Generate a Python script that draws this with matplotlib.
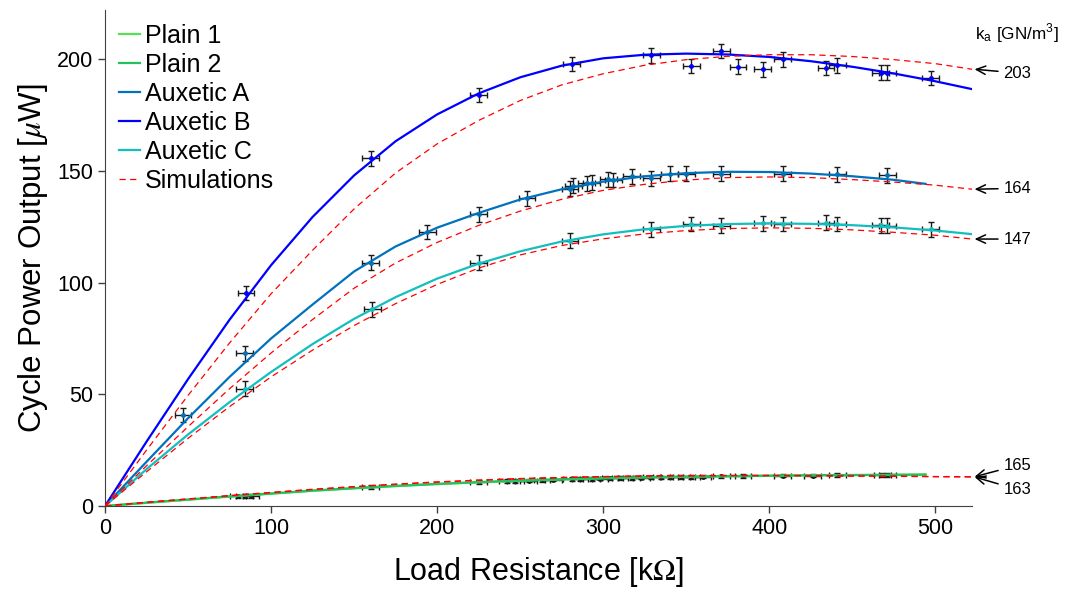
import matplotlib
matplotlib.use('Agg')
from matplotlib import pyplot
import numpy

# fitted curves (kOhm, uW)
r_full = [0, 25, 50, 75, 100, 125, 150, 175, 200, 225, 250, 275, 300, 325, 350, 375, 400, 425, 450, 475, 500, 522]
r_short = [0, 25, 50, 75, 100, 125, 150, 175, 200, 225, 250, 275, 300, 325, 350, 375, 400, 425, 450, 475, 494]

plain1_fit = [0, 1.4, 2.8, 4.2, 5.5, 6.8, 7.9, 8.9, 9.8, 10.6, 11.3, 11.9, 12.4, 12.8, 13.1, 13.3, 13.5, 13.7, 13.8, 13.9, 14.0]
plain2_fit = [0, 1.5, 2.9, 4.3, 5.6, 6.9, 8.0, 9.0, 9.9, 10.7, 11.4, 12.0, 12.5, 12.9, 13.2, 13.4, 13.6, 13.8, 13.9, 14.0, 14.1]
aux_a_fit = [0, 19.8, 39.3, 57.8, 75, 90.2, 105, 116.2, 124.6, 131.2, 137.2, 141.8, 145.2, 147.6, 149, 149.6, 149.5, 148.8, 147.6, 146, 144.2]
aux_b_fit = [0, 28.8, 56.8, 83.4, 107.8, 129.4, 148.0, 163.3, 175.3, 184.7, 191.9, 197.1, 200.4, 202.0, 202.5, 202.1, 201.0, 199.1, 196.6, 193.6, 190.1, 186.6]
aux_c_fit = [0, 16.5, 32, 46.5, 60, 72.5, 83.8, 93.5, 101.8, 108.5, 114, 118.4, 121.6, 123.9, 125.4, 126.2, 126.5, 126.3, 125.7, 124.7, 123.3, 121.7]

# simulations
sim_203 = [0, 25, 49.5, 73, 95, 114.5, 133, 149.1, 162.1, 172.6, 181.5, 188.5, 193.5, 197.3, 199.8, 201.3, 202, 202, 201.2, 199.8, 198, 195.5]
sim_164 = [0, 18, 35.5, 52.5, 68.5, 83.5, 97.5, 108.8, 118, 125.6, 132, 137.3, 141.3, 144, 145.9, 147, 147.3, 147, 146.1, 145, 143.6, 141.8]
sim_147 = [0, 15.3, 30.3, 44.5, 57.8, 69.8, 80.8, 90.6, 99.2, 106.5, 112.4, 116.6, 119.6, 121.8, 123.3, 124.2, 124.5, 124.3, 123.6, 122.5, 121.2, 119.5]
sim_165 = [0, 1.7, 3.2, 4.7, 6.1, 7.5, 8.7, 9.8, 10.8, 11.6, 12.3, 12.8, 13.2, 13.5, 13.6, 13.7, 13.7, 13.6, 13.5, 13.4, 13.2, 13.1]
sim_163 = [0, 1.6, 3.1, 4.6, 6.0, 7.4, 8.6, 9.7, 10.7, 11.5, 12.2, 12.7, 13.1, 13.4, 13.5, 13.6, 13.6, 13.5, 13.4, 13.3, 13.1, 13.0]

# measurements
plain1_r = [84, 160, 225, 247, 263, 281, 293, 304, 317, 329, 340, 353, 371, 408, 441, 471]
plain1_p = [4.5, 8.4, 10.8, 11.3, 11.7, 12.0, 12.2, 12.4, 12.6, 12.8, 12.9, 13.1, 13.3, 13.6, 13.8, 13.9]
plain2_r = [80, 88, 242, 255, 270, 286, 298, 310, 323, 335, 347, 360, 384, 426, 468]
plain2_p = [4.3, 4.5, 11.1, 11.4, 11.8, 12.1, 12.3, 12.5, 12.7, 12.8, 13.0, 13.2, 13.4, 13.6, 13.8]
aux_a_r = [47, 84, 160, 194, 225, 254, 280, 282, 290, 293, 303, 306, 317, 329, 340, 350, 371, 408, 441, 471]
aux_a_p = [40.7, 68.4, 108.9, 122.6, 130.5, 137.7, 142.1, 143.4, 144.4, 144.8, 146.2, 145.9, 147.6, 146.6, 148.8, 148.8, 148.8, 148.8, 148.5, 148.1]
aux_b_r = [85, 160, 225, 281, 329, 353, 371, 381, 396, 408, 434, 441, 467, 471, 497]
aux_b_p = [95.3, 155.7, 184, 197.8, 201.8, 196.9, 203.7, 196.6, 195.4, 200, 196.1, 197.3, 193.9, 193.9, 191.6]
aux_c_r = [84, 161, 225, 280, 329, 353, 371, 396, 408, 434, 441, 467, 471, 497]
aux_c_p = [52.6, 88.1, 108.9, 118.7, 123.9, 126.2, 125.4, 126.5, 126.2, 126.8, 126.2, 125.7, 125.4, 123.9]

r_err = 5.0
p_err_aux = 3.3
p_err_plain = 0.8

k_labels = ['203', '164', '147', '165', '163']

pyplot.rcParams.update({'font.family': 'Liberation Sans', 'mathtext.fontset': 'stix'})

fig = pyplot.figure(figsize=(10.67, 5.91), dpi=100)
ax = fig.add_axes([0.0984, 0.1438, 0.8126, 0.8392])

c_p1 = '#55e055'
c_p2 = '#22c25e'
c_a = '#0072bd'
c_b = '#0000ff'
c_c = '#14bebe'

def errs(r, p, col, perr):
    ax.errorbar(r, p, xerr=r_err, yerr=perr, fmt='o', ms=2.5, mfc=col, mec=col,
                ecolor='#1a1a1a', elinewidth=1.0, capsize=2.5, capthick=1.0, zorder=2)

errs(plain1_r, plain1_p, '#1a1a1a', p_err_plain)
errs(plain2_r, plain2_p, '#1a1a1a', p_err_plain)
errs(aux_a_r, aux_a_p, c_a, p_err_aux)
errs(aux_b_r, aux_b_p, c_b, p_err_aux)
errs(aux_c_r, aux_c_p, c_c, p_err_aux)

ax.plot(r_short, plain1_fit, color=c_p1, lw=1.6, label='Plain 1', zorder=3)
ax.plot(r_short, plain2_fit, color=c_p2, lw=1.6, label='Plain 2', zorder=3)
ax.plot(r_short, aux_a_fit, color=c_a, lw=1.6, label='Auxetic A', zorder=3)
ax.plot(r_full, aux_b_fit, color=c_b, lw=1.6, label='Auxetic B', zorder=3)
ax.plot(r_full, aux_c_fit, color=c_c, lw=1.6, label='Auxetic C', zorder=3)

sims = [sim_203, sim_164, sim_147, sim_165, sim_163]
for i, s in enumerate(sims):
    ax.plot(r_full, s, color='red', lw=0.9, dashes=(5, 3.5), zorder=4,
            label='Simulations' if i == 0 else None)

# k_a annotations
text_y = [193.8, 142.2, 119.5, 18.2, 7.4]
for lab, s, ty in zip(k_labels, sims, text_y):
    ax.annotate(lab, xy=(523.5, s[-1]), xytext=(541, ty), textcoords='data',
                fontsize=12, ha='left', va='center', annotation_clip=False,
                arrowprops=dict(arrowstyle='->,head_length=0.55,head_width=0.25',
                                color='black', lw=1.1, shrinkA=2, shrinkB=0))
ax.text(524, 211.5, r'k$_\mathregular{a}$ [GN/m$^\mathregular{3}$]', fontsize=12.3,
        ha='left', va='center', clip_on=False)

ax.set_xlim(0, 522)
ax.set_ylim(0, 222)
ax.set_xticks([0, 100, 200, 300, 400, 500])
ax.set_yticks([0, 50, 100, 150, 200])
ax.set_xlabel(r'Load Resistance [k$\Omega$]', fontsize=22, labelpad=12)
ax.set_ylabel(r'Cycle Power Output [$\mu$W]', fontsize=22.5, labelpad=5)

for side in ['top', 'right']:
    ax.spines[side].set_visible(False)
for side in ['left', 'bottom']:
    ax.spines[side].set_color('#404040')
ax.tick_params(direction='out', length=5, width=1, colors='#404040', labelsize=15.5, labelcolor='black')

ax.legend(loc='upper left', bbox_to_anchor=(0.0, 1.0), frameon=False, fontsize=18,
          handlelength=0.85, handletextpad=0.2, labelspacing=0.2, borderaxespad=0.35, borderpad=0.2)

fig.savefig('out.png', dpi=100)
